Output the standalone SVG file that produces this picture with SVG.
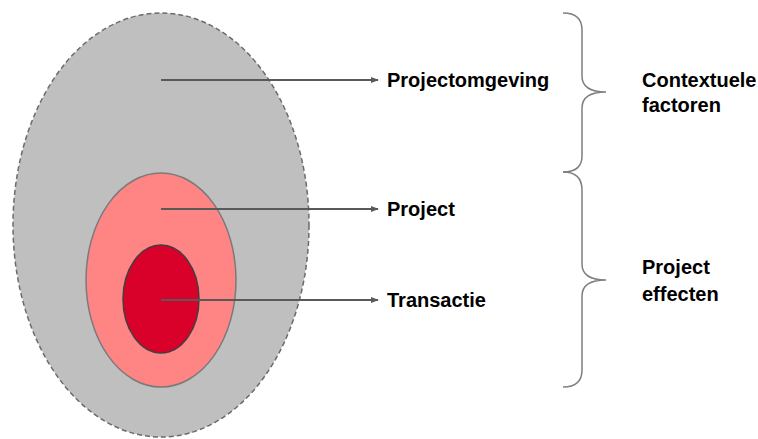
<svg xmlns="http://www.w3.org/2000/svg" width="758" height="439" viewBox="0 0 758 439">
<style>
.lbl{font-family:"Liberation Sans",Arial,sans-serif;font-weight:bold;font-size:20px;fill:#000}
.arr{stroke:#595959;stroke-width:2;fill:none}
.brace{stroke:#7f7f7f;stroke-width:1.5;fill:none}
</style>
<defs>
<marker id="ah" viewBox="0 0 10 10" refX="9" refY="5" markerWidth="4" markerHeight="4" orient="auto" markerUnits="strokeWidth">
<path d="M0,1 L10,5 L0,9 z" fill="#595959"/>
</marker>
</defs>
<g id="projectomgeving">
<ellipse cx="161" cy="225" rx="148" ry="212" fill="#bfbfbf" stroke="#6b6b6b" stroke-width="1.5" stroke-dasharray="5,3"/>
</g>
<g id="project">
<ellipse cx="161" cy="280" rx="75" ry="107" fill="#ff8585" stroke="#7a7a7a" stroke-width="1.5"/>
</g>
<g id="transactie">
<ellipse cx="161" cy="299" rx="38" ry="54" fill="#d9002a" stroke="#404040" stroke-width="1.5"/>
</g>
<g id="connectors">
<line class="arr" x1="161" y1="80" x2="378" y2="80" marker-end="url(#ah)"/>
<line class="arr" x1="161" y1="209" x2="378" y2="209" marker-end="url(#ah)"/>
<line class="arr" x1="161" y1="300" x2="378" y2="300" marker-end="url(#ah)"/>
</g>
<g id="labels">
<text class="lbl" x="387" y="87">Projectomgeving</text>
<text class="lbl" x="387" y="216">Project</text>
<text class="lbl" x="387" y="307">Transactie</text>
</g>
<g id="brace-context">
<path class="brace" d="M563,13 Q582,13 582,30 L582,76 Q582,92 606,92 Q582,92 582,108 L582,156 Q582,172 563,172"/>
<text class="lbl" x="642" y="87">Contextuele</text>
<text class="lbl" x="642" y="112">factoren</text>
</g>
<g id="brace-effecten">
<path class="brace" d="M563,172 Q582,172 582,190 L582,264 Q582,280 606,280 Q582,280 582,296 L582,370 Q582,387 563,387"/>
<text class="lbl" x="642" y="274">Project</text>
<text class="lbl" x="642" y="301">effecten</text>
</g>
</svg>
